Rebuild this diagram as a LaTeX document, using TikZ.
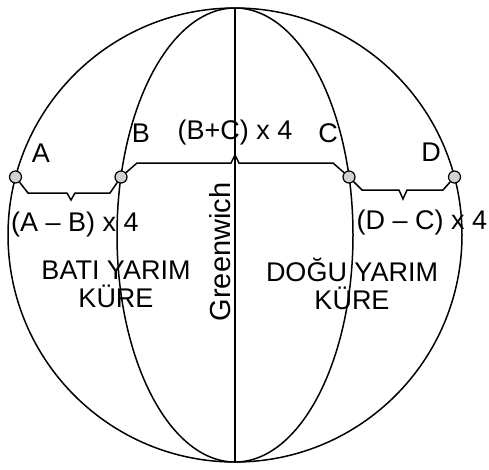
\documentclass[tikz,border=0pt]{standalone}
\usepackage{fontspec}
\setmainfont{Liberation Sans}
\usetikzlibrary{calc}

\begin{document}
\begin{tikzpicture}[x=1pt, y=-1pt, line width=1.5pt, font=\fontsize{27}{28}\selectfont,
		pt/.style={circle, draw, fill=gray!35, inner sep=0pt, minimum size=12pt, line width=1.2pt},
		lbl/.style={inner sep=0pt, align=center}]
		\useasboundingbox (0,0) rectangle (489,469);
		\coordinate (O) at (235,235);
		\coordinate (N) at (235,8);
		\coordinate (S) at (235,462);
		% globe with two meridians and Greenwich
		\draw (O) circle[radius=227];
		\draw (O) ellipse[x radius=118, y radius=227];
		\draw (N) -- (S);
		% points on the parallel
		\node[pt] (A) at (15.5,177) {};
		\node[pt] (B) at (121,177) {};
		\node[pt] (C) at (349,177) {};
		\node[pt] (D) at (454.5,177) {};
		% brackets between the points
		\draw (A) -- (28,193) -- (67,193) -- (71,200) -- (75,193) -- (110,193) -- (B);
		\draw (B) -- (137,163) -- (231,163) -- (235,155) -- (239,163) -- (333,163) -- (C);
		\draw (C) -- (362,190) -- (399,190) -- (403,199) -- (407,190) -- (443,190) -- (D);
		% labels
		\node[lbl] (la) at (41,153) {A};
		\node[lbl] (lb) at (141,133) {B};
		\node[lbl] (lbc) at (235,133) {(B+C) x 4};
		\node[lbl] (lc) at (328,133) {C};
		\node[lbl] (ld) at (431,152) {D};
		\node[lbl] (lab) at (75,225) {(A – B) x 4};
		\node[lbl] (ldc) at (422,223) {(D – C) x 4};
		\node[lbl] (bati) at (116,284) {BATI YARIM\\KÜRE};
		\node[lbl] (dogu) at (352,284) {DOĞU YARIM\\KÜRE};
		\node[lbl, rotate=90, font=\fontsize{29}{30}\selectfont] (gr) at (220,252) {Greenwich};
	\end{tikzpicture}
\end{document}
